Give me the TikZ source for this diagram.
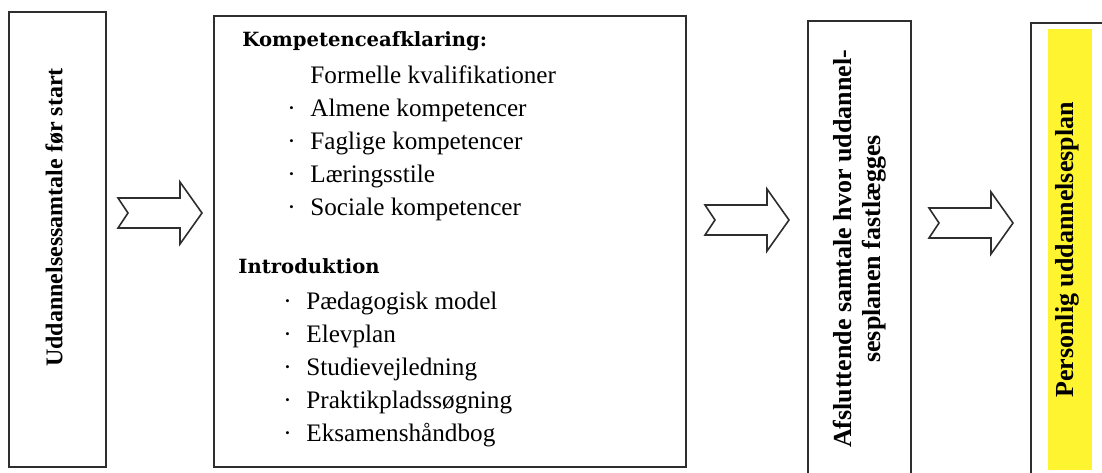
\documentclass[tikz,border=0pt]{standalone}
\usepackage{fontspec}
\setmainfont{Liberation Serif}
\newfontfamily\headfont{DejaVu Serif}
\usepackage{tikz}
\usetikzlibrary{positioning,calc}

\definecolor{boxline}{HTML}{2E2E2E}
\definecolor{marker}{HTML}{FFF430}
\newcommand{\bul}{\makebox[11.5pt][l]{·}}
\newcommand{\nobul}{\makebox[11.5pt][l]{}}

\tikzset{
  stage/.style={rectangle, draw=boxline, line width=1pt, inner sep=0pt, anchor=north west},
  vlabel/.style={rotate=90, inner sep=0pt, align=center, font=\bfseries\fontsize{13}{14.5}\selectfont},
  heading/.style={inner sep=0pt, anchor=base west, font=\headfont\bfseries\fontsize{9.8}{12}\selectfont},
  items/.style={inner sep=0pt, align=left, font=\fontsize{12.6}{16.5}\selectfont},
  notcharrow/.pic={
    \draw[boxline, line width=0.8pt, fill=white]
      (-42,-15) -- (20,-15) -- (20,-31) -- (42,0) -- (20,31) -- (20,15)
      -- (-42,15) -- (-32,0) -- cycle;
  }
}

\begin{document}
\begin{tikzpicture}[x=0.5pt, y=-0.5pt]
  \useasboundingbox (0,0) rectangle (1102,472);
  \clip (0,0) rectangle (1102,472);

  %Define nodes
  \node[stage, minimum width=48.5pt, minimum height=227.5pt] (start) at (8,11) {};
  \node[stage, minimum width=236pt, minimum height=225.5pt] (afklar) at (213,15) {};
  \node[stage, minimum width=51.5pt, minimum height=228pt] (samtale) at (807,20) {};
  \node[stage, minimum width=50pt, minimum height=228pt] (plan) at (1030,22) {};
  \node[fill=marker, inner sep=0pt, anchor=north west, minimum width=22pt, minimum height=220.5pt] (mark) at (1048,29) {};

  % Box texts
  \node[vlabel, font=\bfseries\fontsize{12}{14}\selectfont] (startlbl) at ($(start.center)+(-3,-22)$) {Uddannelsessamtale før start};
  \node[vlabel] (samtalelbl) at (samtale.center) {Afsluttende samtale hvor uddannel-\\sesplanen fastlægges};
  \node[vlabel] (planlbl) at ($(mark.center)+(-3,0)$) {Personlig uddannelsesplan};

  \node[heading] (komp) at (242,46) {Kompetenceafklaring:};
  \node[items, below right=9.5pt and 22.5pt of komp.base west] (kompitems) {\nobul Formelle kvalifikationer\\
    \bul Almene kompetencer\\
    \bul Faglige kompetencer\\
    \bul Læringsstile\\
    \bul Sociale kompetencer};
  \node[heading] (intro) at (238,273) {Introduktion};
  \node[items, below right=9.5pt and 22.5pt of intro.base west] (introitems) {\bul Pædagogisk model\\
    \bul Elevplan\\
    \bul Studievejledning\\
    \bul Praktikpladssøgning\\
    \bul Eksamenshåndbog};

  % Connect the nodes
  \coordinate (m1) at ($(start.east)!.5!(afklar.west)$);
  \coordinate (m2) at ($(afklar.east)!.5!(samtale.west)$);
  \coordinate (m3) at ($(samtale.east)!.5!(plan.west)$);
  \pic at (m1 |- 0,213) {notcharrow};
  \pic at (m2 |- 0,220) {notcharrow};
  \pic at (m3 |- 0,223) {notcharrow};

\end{tikzpicture}
\end{document}
